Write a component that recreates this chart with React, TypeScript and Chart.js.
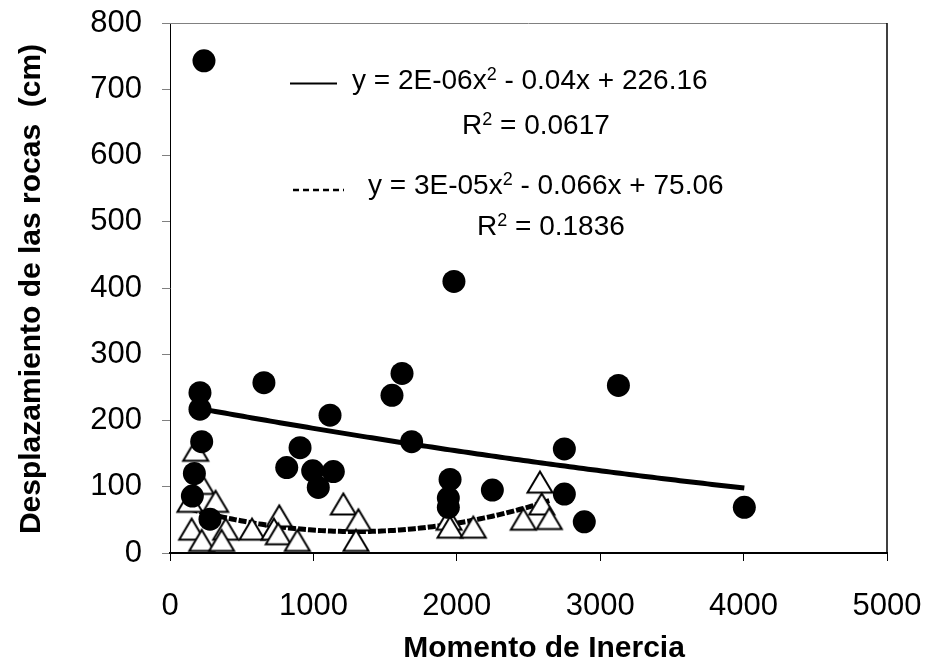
import { useEffect, useRef } from "react";
import { Chart, registerables } from "chart.js";

Chart.register(...registerables);

// ---- data ----
const circleX = [237, 209, 209, 221, 170, 156, 279, 655, 814, 907, 995, 1034, 1116, 1139, 1548, 1618, 1685, 1980, 1953, 1941, 1941, 2248, 3127, 2750, 2750, 2889, 4005];
const circleY = [743, 242, 217, 168, 120, 86, 51, 257, 129, 159, 124, 99, 208, 123, 238, 271, 168, 410, 111, 83, 69, 95, 253, 157, 89, 47, 69];

const triX = [179, 218, 139, 318, 151, 221, 388, 360, 572, 762, 725, 755, 888, 1209, 1314, 1297, 1946, 1953, 2115, 2580, 2592, 2464, 2645];
const triY = [155, 105, 78, 78, 36, 19, 36, 19, 36, 56, 36, 29, 19, 74, 50, 19, 51, 39, 39, 107, 74, 51, 52];

const xTicks = [0, 1000, 2000, 3000, 4000, 5000];
const yTicks = [0, 100, 200, 300, 400, 500, 600, 700, 800];

// quadratic trendline coefficients [a, b, c] : y = a x^2 + b x + c
const fitSolid = [2e-6, -0.04, 226.16];
const fitDashed = [2.55e-5, -0.066, 75.06];

const eqSolid = ["y = 2E-06x", "2", " - 0.04x + 226.16"];
const r2Solid = ["R", "2", " = 0.0617"];
const eqDashed = ["y = 3E-05x", "2", " - 0.066x + 75.06"];
const r2Dashed = ["R", "2", " = 0.1836"];

const xTitle = "Momento de Inercia";
const yTitle = "Desplazamiento de las rocas  (cm)";

const FONT = "Arial, 'Liberation Sans', sans-serif";

function trend(coef: number[], xs: number[]) {
  const lo = Math.min(...xs);
  const hi = Math.max(...xs);
  const pts: { x: number; y: number }[] = [];
  const n = 120;
  for (let i = 0; i <= n; i++) {
    const x = lo + ((hi - lo) * i) / n;
    pts.push({ x, y: coef[0] * x * x + coef[1] * x + coef[2] });
  }
  return pts;
}

function makeTriangle() {
  const c = document.createElement("canvas");
  c.width = 30;
  c.height = 28;
  const g = c.getContext("2d")!;
  g.beginPath();
  g.moveTo(15, 3.5);
  g.lineTo(27.5, 24.5);
  g.lineTo(2.5, 24.5);
  g.closePath();
  g.fillStyle = "#ffffff";
  g.fill();
  g.lineWidth = 2;
  g.strokeStyle = "#000000";
  g.stroke();
  return c;
}

function drawSupText(ctx: CanvasRenderingContext2D, parts: string[], x: number, y: number) {
  ctx.font = `28px ${FONT}`;
  ctx.fillText(parts[0], x, y);
  let cx = x + ctx.measureText(parts[0]).width;
  ctx.font = `18px ${FONT}`;
  ctx.fillText(parts[1], cx, y - 9);
  cx += ctx.measureText(parts[1]).width;
  ctx.font = `28px ${FONT}`;
  ctx.fillText(parts[2], cx, y);
}

const annotPlugin = {
  id: "annot",
  afterDatasetsDraw(chart: any) {
    const ctx: CanvasRenderingContext2D = chart.ctx;
    const a = chart.chartArea;
    ctx.save();
    // plot area border: top grey, right black
    ctx.strokeStyle = "#808080";
    ctx.lineWidth = 1;
    ctx.beginPath();
    ctx.moveTo(a.left, a.top + 0.5);
    ctx.lineTo(a.right, a.top + 0.5);
    ctx.stroke();
    ctx.strokeStyle = "#000";
    ctx.lineWidth = 1.5;
    ctx.beginPath();
    ctx.moveTo(a.right, a.top);
    ctx.lineTo(a.right, a.bottom);
    ctx.stroke();

    ctx.fillStyle = "#000";
    ctx.textBaseline = "alphabetic";
    ctx.textAlign = "left";
    // legend samples
    ctx.lineWidth = 2;
    ctx.beginPath();
    ctx.moveTo(290, 83.5);
    ctx.lineTo(337, 83.5);
    ctx.stroke();
    ctx.lineWidth = 2.5;
    ctx.setLineDash([6, 4]);
    ctx.beginPath();
    ctx.moveTo(293, 190);
    ctx.lineTo(344, 190);
    ctx.stroke();
    ctx.setLineDash([]);

    drawSupText(ctx, eqSolid, 352, 88.5);
    drawSupText(ctx, r2Solid, 462, 133.5);
    drawSupText(ctx, eqDashed, 368, 193.5);
    drawSupText(ctx, r2Dashed, 477, 235);

    // axis titles
    ctx.font = `bold 30px ${FONT}`;
    ctx.textAlign = "center";
    ctx.fillText(xTitle, 544, 657);
    ctx.save();
    ctx.translate(40, 289);
    ctx.rotate(-Math.PI / 2);
    ctx.fillText(yTitle, 0, 0);
    ctx.restore();
    ctx.restore();
  },
};

export default function App() {
  const ref = useRef<HTMLCanvasElement | null>(null);
  useEffect(() => {
    if (!ref.current) return;
    const tri = makeTriangle();
    const chart = new Chart(ref.current, {
      type: "scatter",
      data: {
        datasets: [
          {
            label: "solid trend",
            data: trend(fitSolid, circleX),
            showLine: true,
            borderColor: "#000",
            borderWidth: 5,
            pointRadius: 0,
            order: 0,
          },
          {
            label: "circles",
            data: circleX.map((x, i) => ({ x, y: circleY[i] })),
            backgroundColor: "#000",
            borderWidth: 0,
            pointRadius: 11.5,
            order: 1,
          },
          {
            label: "triangles",
            data: triX.map((x, i) => ({ x, y: triY[i] })),
            pointStyle: tri as any,
            pointRadius: 12,
            order: 2,
          },
          {
            label: "dashed trend",
            data: trend(fitDashed, triX),
            showLine: true,
            borderColor: "#000",
            borderWidth: 5,
            borderDash: [8, 2],
            pointRadius: 0,
            order: 3,
          },
        ],
      },
      options: {
        animation: false,
        responsive: false,
        devicePixelRatio: 1,
        layout: { padding: { left: 0, right: 39, top: 23, bottom: 0 } },
        plugins: { legend: { display: false }, tooltip: { enabled: false } },
        scales: {
          x: {
            type: "linear",
            min: 0,
            max: 5000,
            afterBuildTicks: (s: any) => {
              s.ticks = xTicks.map((v) => ({ value: v }));
            },
            afterFit: (s: any) => {
              s.height = 110;
              s.paddingLeft = 0;
              s.paddingRight = 0;
            },
            ticks: {
              font: { size: 31, family: FONT },
              color: "#000",
              padding: 27,
              maxRotation: 0,
              autoSkip: false,
              callback: (v: any) => String(v),
            },
            grid: { drawOnChartArea: false, tickLength: 8, color: "#000", lineWidth: 1 },
            border: { color: "#000", width: 2 },
          },
          y: {
            type: "linear",
            min: 0,
            max: 800,
            afterBuildTicks: (s: any) => {
              s.ticks = yTicks.map((v) => ({ value: v }));
            },
            afterFit: (s: any) => {
              s.width = 170;
              s.paddingTop = 0;
              s.paddingBottom = 0;
            },
            ticks: {
              font: { size: 31, family: FONT },
              color: "#000",
              padding: 20,
              autoSkip: false,
              callback: (v: any) => String(v),
            },
            grid: { drawOnChartArea: false, tickLength: 8, color: "#808080", lineWidth: 1 },
            border: { color: "#000", width: 1 },
          },
        },
      },
      plugins: [annotPlugin],
    });
    return () => chart.destroy();
  }, []);
  return (
    <div style={{ position: "fixed", left: 0, top: 0, width: 926, height: 663, background: "#fff" }}>
      <canvas ref={ref} width={926} height={663} style={{ width: 926, height: 663 }} />
    </div>
  );
}
